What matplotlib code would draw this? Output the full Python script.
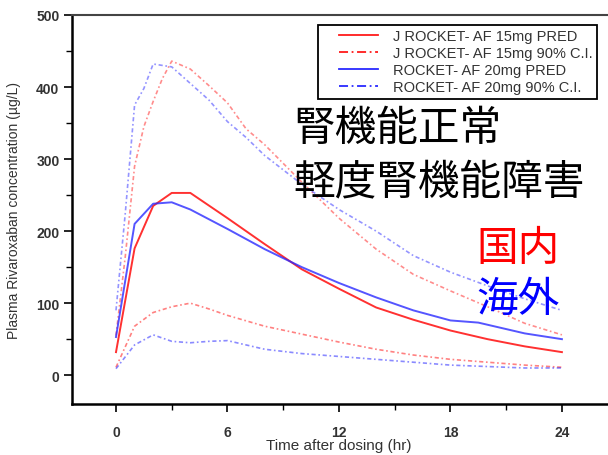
import numpy as np
import matplotlib
matplotlib.use("Agg")
import matplotlib.pyplot as plt
from matplotlib.lines import Line2D
from matplotlib.legend_handler import HandlerLine2D

# ---------------- data ----------------
t_pred_j = [0, 1, 2, 3, 4, 6, 8, 10, 12, 14, 16, 18, 20, 22, 24]
pred_j = [32, 176, 235, 253, 253, 218, 182, 147, 120, 94, 77, 62, 50, 40, 32]

t_pred_g = [0, 1, 2, 3, 4, 6, 8, 10, 12, 14, 16, 18, 19.5, 20, 22, 24]
pred_g = [53, 210, 238, 240, 230, 203, 175, 150, 128, 108, 90, 76, 73, 70, 58, 50]

t_ci = [0, 0.5, 1, 1.5, 2, 2.5, 3, 4, 5, 6, 7, 8, 10, 12, 14, 16, 18, 20, 22, 24]
upper_j = [55, 165, 290, 345, 380, 412, 436, 425, 402, 378, 342, 320, 268, 218, 175, 140, 117, 95, 72, 56]
upper_g = [90, 225, 375, 398, 432, 430, 428, 405, 382, 352, 330, 305, 265, 230, 200, 166, 143, 124, 106, 90]

t_lo = [0, 1, 2, 3, 4, 5, 6, 8, 10, 12, 14, 16, 18, 20, 22, 24]
lower_j = [11, 68, 87, 95, 100, 92, 83, 68, 57, 46, 36, 28, 22, 18, 14, 11]
lower_g = [9, 42, 56, 47, 45, 47, 48, 36, 30, 26, 22, 18, 14, 12, 10, 10]

legend_labels = ["J ROCKET- AF 15mg PRED", "J ROCKET- AF 15mg 90% C.I.",
                 "ROCKET- AF 20mg PRED", "ROCKET- AF 20mg 90% C.I."]
x_ticks = [0, 6, 12, 18, 24]
y_ticks = [0, 100, 200, 300, 400, 500]

RED = "#ff1a1a"
BLUE = "#2a2aff"

# ---------------- figure ----------------
plt.rcParams['font.family'] = ['Liberation Sans', 'DejaVu Sans']
fig = plt.figure(figsize=(6.08, 4.56), dpi=100)
W, H = 608, 456
ax = fig.add_axes([72 / W, 1 - 405 / H, 1 - 72 / W, (405 - 16) / H])

ci_ls = (0, (2.5, 1.6, 1, 1.6))
ax.plot(t_pred_j, pred_j, color=RED, lw=1.4, alpha=0.9)
ax.plot(t_ci, upper_j, color=RED, lw=1.2, ls=ci_ls, alpha=0.5)
ax.plot(t_lo, lower_j, color=RED, lw=1.2, ls=ci_ls, alpha=0.55)
ax.plot(t_pred_g, pred_g, color=BLUE, lw=1.4, alpha=0.8)
ax.plot(t_ci, upper_g, color=BLUE, lw=1.2, ls=ci_ls, alpha=0.5)
ax.plot(t_lo, lower_g, color=BLUE, lw=1.2, ls=ci_ls, alpha=0.55)

x0, slope = 116, 18.58
ax.set_xlim((72 - x0) / slope, (608 - x0) / slope)
ax.set_ylim(-40, 500)
ax.set_xticks(x_ticks)
ax.set_xticks([3, 9, 15, 21], minor=True)
ax.set_yticks(y_ticks)
ax.set_yticks([50, 150, 250, 350, 450], minor=True)
ax.tick_params(axis='both', which='major', direction='out', length=6, width=1.2,
               labelsize=10, labelcolor='#333333')
ax.tick_params(axis='both', which='minor', direction='out', length=4, width=1.0)
ax.tick_params(axis='x', which='major', pad=9)
ax.tick_params(axis='y', which='major', pad=3)
for lab in ax.get_xticklabels() + ax.get_yticklabels():
    lab.set_fontweight('bold')

ax.spines['right'].set_visible(False)
ax.spines['left'].set_linewidth(1.8)
ax.spines['bottom'].set_linewidth(1.8)
ax.spines['top'].set_linewidth(1.5)
ax.spines['top'].set_color('#444444')

ax.set_ylabel("Plasma Rivaroxaban concentration (µg/L)", fontsize=10, color='#333333')
ax.yaxis.set_label_coords(-(72 - 21) / 536, 0.5)
ax.set_xlabel("Time after dosing (hr)", fontsize=11, color='#333333')
ax.xaxis.set_label_coords((12 - (72 - x0) / slope) / ((608 - 72) / slope), -(446 - 405) / 389)
ax.xaxis.label.set_va('center')

# ---------------- legend ----------------
class ShiftHandler(HandlerLine2D):
    def __init__(self, shift, **kw):
        super().__init__(marker_pad=0, **kw)
        self.shift = shift

    def create_artists(self, legend, orig_handle, xdescent, ydescent, width, height, fontsize, trans):
        return super().create_artists(legend, orig_handle, xdescent - self.shift, ydescent,
                                      width - self.shift, height, fontsize, trans)

handles = [Line2D([], [], color=RED, lw=1.3),
           Line2D([], [], color=RED, lw=1.3, ls=(0, (5, 2, 1, 2))),
           Line2D([], [], color=BLUE, lw=1.3),
           Line2D([], [], color=BLUE, lw=1.3, ls=(0, (5, 2, 1, 2)))]
leg_fs = 10.5
px_per_fs = leg_fs * 100 / 72
shift_px = 17
leg = ax.legend(handles, legend_labels, loc='upper left',
                bbox_to_anchor=((318 - 72) / (608 - 72), (405 - 26) / 389),
                fontsize=leg_fs, frameon=True, fancybox=False, framealpha=1,
                edgecolor='black', borderpad=0.3, labelspacing=0.2,
                handlelength=56 / px_per_fs, handletextpad=15 / px_per_fs,
                borderaxespad=0,
                handler_map={h: ShiftHandler(shift_px * 72 / 100) for h in handles})
leg.get_frame().set_linewidth(1.3)
for txt in leg.get_texts():
    txt.set_color('#333333')

# ---------------- annotations ----------------
cjk = ['Noto Sans CJK JP', 'DejaVu Sans']
fs_big = 30
fig.text(293 / W, 1 - 130 / H, "腎機能正常", family=cjk, fontsize=fs_big, color='black', va='center', ha='left')
fig.text(293 / W, 1 - 183 / H, "軽度腎機能障害", family=cjk, fontsize=fs_big, color='black', va='center', ha='left')
fig.text(476 / W, 1 - 250 / H, "国内", family=cjk, fontsize=fs_big, color='#ff0000', va='center', ha='left')
fig.text(476 / W, 1 - 300 / H, "海外", family=cjk, fontsize=fs_big, color='#0000ff', va='center', ha='left')

fig.savefig("out.png", dpi=100)
